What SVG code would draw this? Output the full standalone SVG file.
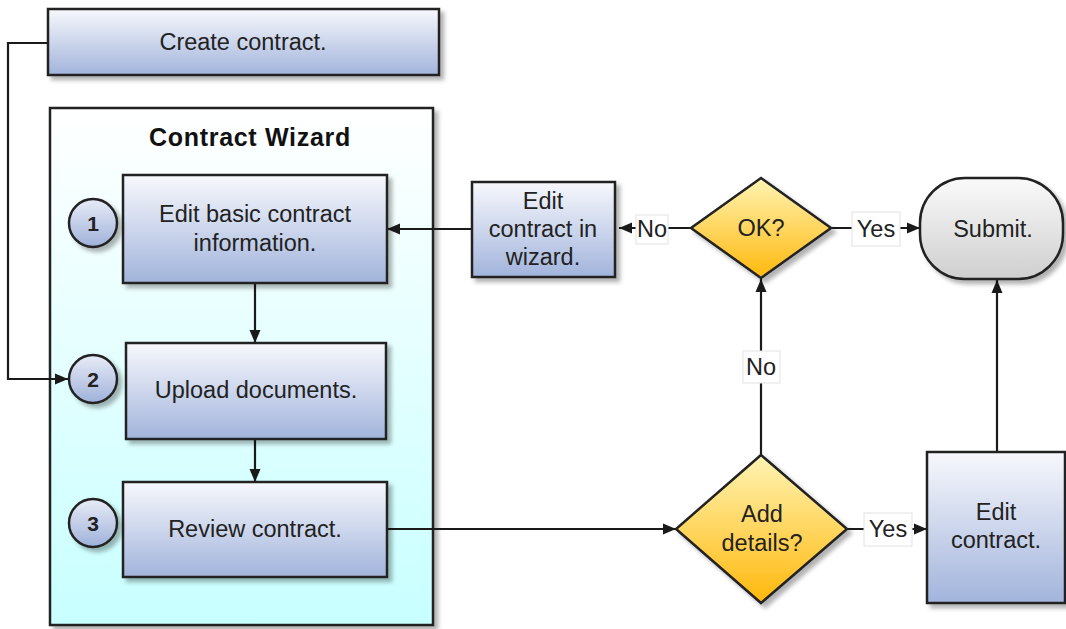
<svg xmlns="http://www.w3.org/2000/svg" width="1066" height="629" viewBox="0 0 1066 629">
<defs>
<linearGradient id="gBox" x1="0" y1="0" x2="0" y2="1">
<stop offset="0" stop-color="#f7f8fc"/><stop offset="1" stop-color="#a2b4dc"/>
</linearGradient>
<linearGradient id="gCirc" x1="0" y1="0" x2="0" y2="1">
<stop offset="0" stop-color="#e8ecf7"/><stop offset="1" stop-color="#9fb1da"/>
</linearGradient>
<linearGradient id="gDia" x1="0" y1="0" x2="0" y2="1">
<stop offset="0" stop-color="#fff4b4"/><stop offset="1" stop-color="#ffb80c"/>
</linearGradient>
<linearGradient id="gTerm" x1="0" y1="0" x2="0" y2="1">
<stop offset="0" stop-color="#fafafa"/><stop offset="1" stop-color="#cfcfcf"/>
</linearGradient>
<linearGradient id="gCont" x1="0" y1="0" x2="0" y2="1">
<stop offset="0" stop-color="#ffffff"/><stop offset="1" stop-color="#c8ffff"/>
</linearGradient>
<filter id="sh" x="-10%" y="-10%" width="130%" height="130%">
<feDropShadow dx="4" dy="4" stdDeviation="2" flood-color="#000" flood-opacity="0.3"/>
</filter>
<marker id="arr" markerUnits="userSpaceOnUse" markerWidth="14" markerHeight="14" viewBox="0 0 14 14" refX="13" refY="7" orient="auto">
<path d="M0,1.5 L13,7 L0,12.5 Z" fill="#1a1a1a"/>
</marker>
</defs>
<style>
.box{fill:url(#gBox);stroke:#222;stroke-width:2.5;filter:url(#sh)}
.circ{fill:url(#gCirc);stroke:#222;stroke-width:2.5;filter:url(#sh)}
.dia{fill:url(#gDia);stroke:#222;stroke-width:2.5;filter:url(#sh)}
.term{fill:url(#gTerm);stroke:#222;stroke-width:2.5;filter:url(#sh)}
.cont{fill:url(#gCont);stroke:#222;stroke-width:2.5;filter:url(#sh)}
.t{font-family:"Liberation Sans",Arial,sans-serif;font-size:23.5px;fill:#222;text-anchor:middle}
.n{font-family:"Liberation Sans",Arial,sans-serif;font-size:21px;font-weight:bold;fill:#222;text-anchor:middle}
.title{font-family:"Liberation Sans",Arial,sans-serif;font-size:25px;font-weight:bold;fill:#111;text-anchor:middle;letter-spacing:0.7px}
.lbl{fill:#fff;stroke:#e2e2e2;stroke-width:1}
.c{fill:none;stroke:#1a1a1a;stroke-width:2.2}
.ca{fill:none;stroke:#1a1a1a;stroke-width:2.2;marker-end:url(#arr)}
</style>
<g id="container">
<rect class="cont" x="50" y="108" width="383" height="517"/>
<text class="title" x="250" y="146">Contract Wizard</text>
</g>
<g id="connectors">
<polyline class="ca" points="48,43 8,43 8,379 68,379"/>
<line class="ca" x1="255" y1="283" x2="255" y2="343"/>
<line class="ca" x1="255" y1="439" x2="255" y2="482"/>
<line class="ca" x1="472" y1="229" x2="387" y2="229"/>
<line class="ca" x1="691" y1="228" x2="619" y2="228"/>
<line class="ca" x1="831" y1="228" x2="920" y2="228"/>
<line class="ca" x1="387" y1="529" x2="676" y2="529"/>
<line class="ca" x1="761" y1="455" x2="761" y2="279"/>
<line class="ca" x1="847" y1="529" x2="927" y2="529"/>
<line class="ca" x1="997" y1="452" x2="997" y2="280"/>
<rect class="lbl" x="636" y="215" width="32" height="29"/>
<text class="t" x="652" y="237">No</text>
<rect class="lbl" x="852" y="212" width="48" height="34"/>
<text class="t" x="876" y="237">Yes</text>
<rect class="lbl" x="743" y="351" width="37" height="32"/>
<text class="t" x="761" y="375">No</text>
<rect class="lbl" x="864" y="513" width="48" height="33"/>
<text class="t" x="888" y="537">Yes</text>
</g>
<g id="create">
<rect class="box" x="48" y="9" width="391" height="66"/>
<text class="t" x="243" y="50">Create contract.</text>
</g>
<g id="step1">
<rect class="box" x="123" y="175" width="264" height="108"/>
<text class="t" x="255" y="222">Edit basic contract</text>
<text class="t" x="255" y="251">information.</text>
</g>
<g id="num1">
<circle class="circ" cx="93" cy="223" r="24"/>
<text class="n" x="93" y="231">1</text>
</g>
<g id="step2">
<rect class="box" x="126" y="343" width="260" height="96"/>
<text class="t" x="256" y="398">Upload documents.</text>
</g>
<g id="num2">
<circle class="circ" cx="93" cy="379" r="24"/>
<text class="n" x="93" y="387">2</text>
</g>
<g id="step3">
<rect class="box" x="123" y="482" width="264" height="95"/>
<text class="t" x="255" y="537">Review contract.</text>
</g>
<g id="num3">
<circle class="circ" cx="93" cy="523" r="24"/>
<text class="n" x="93" y="531">3</text>
</g>
<g id="editWizard">
<rect class="box" x="472" y="182" width="143" height="95"/>
<text class="t" x="543" y="209">Edit</text>
<text class="t" x="543" y="237">contract in</text>
<text class="t" x="543" y="265">wizard.</text>
</g>
<g id="ok">
<polygon class="dia" points="761,178 831,228 761,278 691,228"/>
<text class="t" x="761" y="236">OK?</text>
</g>
<g id="submit">
<rect class="term" x="920" y="178" width="143" height="101" rx="45" ry="45"/>
<text class="t" x="993" y="237">Submit.</text>
</g>
<g id="addDetails">
<polygon class="dia" points="761,455 847,529 761,603 676,529"/>
<text class="t" x="762" y="522">Add</text>
<text class="t" x="762" y="551">details?</text>
</g>
<g id="editContract">
<rect class="box" x="927" y="452" width="138" height="151"/>
<text class="t" x="996" y="520">Edit</text>
<text class="t" x="996" y="548">contract.</text>
</g>
</svg>
